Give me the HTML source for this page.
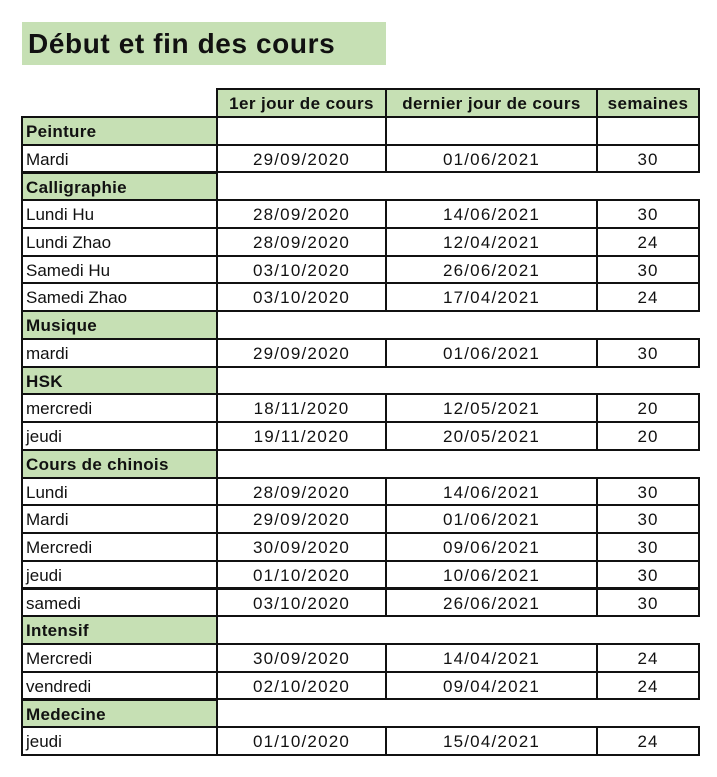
<!DOCTYPE html>
<html><head><meta charset="utf-8"><style>
body{margin:0;width:717px;height:777px;background:#fff;position:relative;overflow:hidden;font-family:"Liberation Sans",sans-serif;color:#111}
.t{position:absolute;left:22px;top:22px;width:364px;height:43px;background:#c6e0b4;font-weight:bold;font-size:28px;line-height:44px;padding-left:6px;box-sizing:border-box;letter-spacing:0.6px}
.c{position:absolute;border:2px solid #111;box-sizing:border-box;height:29.7px;line-height:27px;font-size:17px;text-align:center;white-space:nowrap}
.a{left:21px;width:197px;text-align:left;padding-left:3px}
.b{left:216px;width:171px;letter-spacing:1.2px}
.d{left:385px;width:213px;letter-spacing:1.2px}
.e{left:596px;width:104px;letter-spacing:1px}
.g{background:#c6e0b4;font-weight:bold;letter-spacing:0.3px}
.b.g,.d.g,.e.g{letter-spacing:0.4px}
</style></head><body>
<div class="t">Début et fin des cours</div>
<div id="tb"></div>
<script>
var rows=[["h"],["Peinture",1],["Mardi","29/09/2020","01/06/2021","30"],["Calligraphie"],
["Lundi Hu","28/09/2020","14/06/2021","30"],["Lundi Zhao","28/09/2020","12/04/2021","24"],
["Samedi Hu","03/10/2020","26/06/2021","30"],["Samedi Zhao","03/10/2020","17/04/2021","24"],
["Musique"],["mardi","29/09/2020","01/06/2021","30"],["HSK"],
["mercredi","18/11/2020","12/05/2021","20"],["jeudi","19/11/2020","20/05/2021","20"],
["Cours de chinois"],["Lundi","28/09/2020","14/06/2021","30"],["Mardi","29/09/2020","01/06/2021","30"],
["Mercredi","30/09/2020","09/06/2021","30"],["jeudi","01/10/2020","10/06/2021","30"],
["samedi","03/10/2020","26/06/2021","30"],["Intensif"],["Mercredi","30/09/2020","14/04/2021","24"],
["vendredi","02/10/2020","09/04/2021","24"],["Medecine"],["jeudi","01/10/2020","15/04/2021","24"]];
var h="";
rows.forEach(function(r,i){
 var top;
 if(i==0){
  h+='<div class="c b g" style="top:88px">1er jour de cours</div><div class="c d g" style="top:88px">dernier jour de cours</div><div class="c e g" style="top:88px">semaines</div>';return;}
 top=(117+(i-1)*27.74-1).toFixed(1);
 if(r.length<4){
  h+='<div class="c a g" style="top:'+top+'px">'+r[0]+'</div>';
  if(r[1])h+='<div class="c b" style="top:'+top+'px"></div><div class="c d" style="top:'+top+'px"></div><div class="c e" style="top:'+top+'px"></div>';
 }else{
  h+='<div class="c a" style="top:'+top+'px">'+r[0]+'</div><div class="c b" style="top:'+top+'px">'+r[1]+'</div><div class="c d" style="top:'+top+'px">'+r[2]+'</div><div class="c e" style="top:'+top+'px">'+r[3]+'</div>';
 }
});
document.getElementById("tb").innerHTML=h;
</script>
</body></html>
